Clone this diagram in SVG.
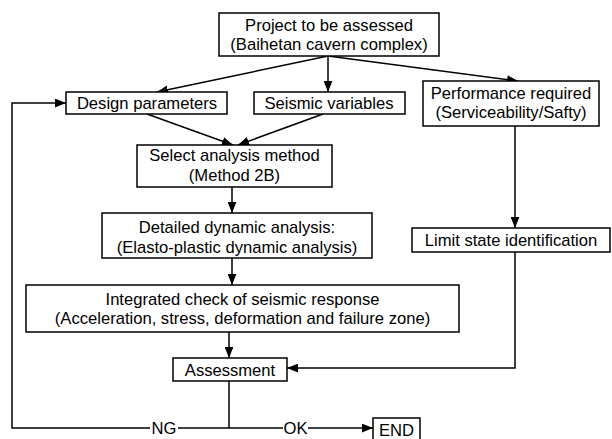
<svg xmlns="http://www.w3.org/2000/svg" width="612" height="439" viewBox="0 0 612 439">
<defs>
<marker id="ah" viewBox="0 0 10 8" refX="10" refY="4" markerWidth="11" markerHeight="9" markerUnits="userSpaceOnUse" orient="auto">
<path d="M0,0 L10,4 L0,8 Z" fill="#000"/>
</marker>
<style>
.b{fill:#fff;stroke:#000;stroke-width:1.5}
.t{font-family:"Liberation Sans",Arial,sans-serif;font-size:16.6px;fill:#000;text-anchor:middle}
.c{fill:none;stroke:#000;stroke-width:1.5}
.a{marker-end:url(#ah)}
</style>
</defs>
<rect width="612" height="439" fill="#fff"/>
<g id="connectors">
<line class="c a" x1="328" y1="56" x2="157" y2="92"/>
<line class="c a" x1="328" y1="56" x2="328" y2="92"/>
<line class="c a" x1="328" y1="56" x2="518" y2="81"/>
<line class="c a" x1="147" y1="114" x2="233" y2="145"/>
<line class="c a" x1="323" y1="114" x2="238" y2="145"/>
<line class="c a" x1="232" y1="187" x2="232" y2="213"/>
<line class="c a" x1="232" y1="258" x2="232" y2="285"/>
<line class="c a" x1="229" y1="332" x2="229" y2="358"/>
<line class="c a" x1="515" y1="126" x2="515" y2="228"/>
<polyline class="c a" points="515,252 515,368 287,368"/>
<line class="c" x1="229" y1="381" x2="229" y2="428"/>
<polyline class="c a" points="150,428 12,428 12,103 66,103"/>
<line class="c" x1="178" y1="428" x2="283" y2="428"/>
<line class="c a" x1="308" y1="428" x2="373" y2="428"/>
<text class="t" x="164" y="434">NG</text>
<text class="t" x="295.5" y="434">OK</text>
</g>
<g id="project"><rect class="b" x="219" y="13" width="220" height="43"/><text class="t" x="329" y="31">Project to be assessed</text><text class="t" x="329" y="50">(Baihetan cavern complex)</text></g>
<g id="design"><rect class="b" x="66" y="92" width="161" height="22"/><text class="t" x="147" y="109">Design parameters</text></g>
<g id="seismic"><rect class="b" x="254" y="92" width="151" height="22"/><text class="t" x="329" y="109">Seismic variables</text></g>
<g id="performance"><rect class="b" x="423" y="81" width="176" height="45"/><text class="t" x="511" y="99">Performance required</text><text class="t" x="511" y="118">(Serviceability/Safty)</text></g>
<g id="select"><rect class="b" x="137" y="145" width="195" height="42"/><text class="t" x="234.5" y="161">Select analysis method</text><text class="t" x="234.5" y="181">(Method 2B)</text></g>
<g id="detailed"><rect class="b" x="102" y="213" width="270" height="45"/><text class="t" x="237" y="233">Detailed dynamic analysis:</text><text class="t" x="237" y="253">(Elasto-plastic dynamic analysis)</text></g>
<g id="limit"><rect class="b" x="412" y="228" width="198" height="24"/><text class="t" x="511" y="246">Limit state identification</text></g>
<g id="integrated"><rect class="b" x="26" y="285" width="433" height="47"/><text class="t" x="242.5" y="305">Integrated check of seismic response</text><text class="t" x="242.5" y="324">(Acceleration, stress, deformation and failure zone)</text></g>
<g id="assessment"><rect class="b" x="173" y="358" width="114" height="23"/><text class="t" x="230" y="376">Assessment</text></g>
<g id="end"><rect class="b" x="373" y="418" width="47" height="24"/><text class="t" x="396.5" y="436">END</text></g>
</svg>
